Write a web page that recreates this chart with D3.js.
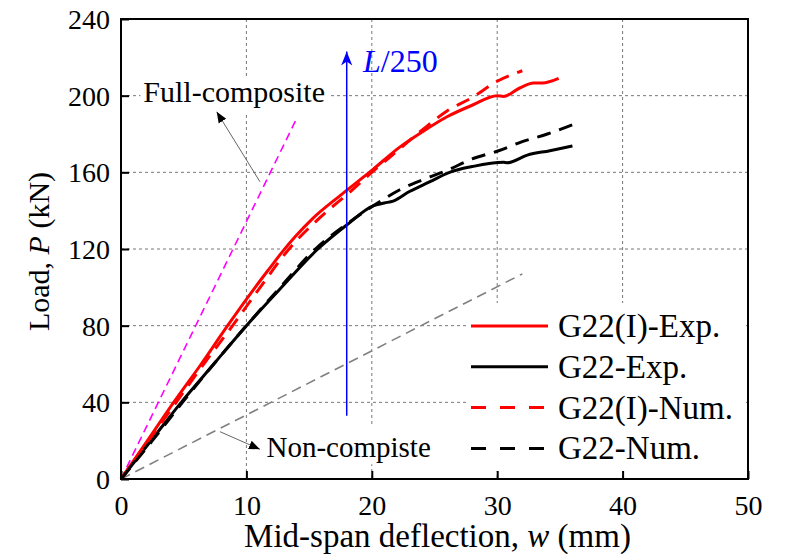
<!DOCTYPE html>
<html>
<head>
<meta charset="utf-8">
<script src="https://cdn.jsdelivr.net/npm/d3@7"></script>
<style>
  body { margin: 0; background: #fff; }
  text { font-family: "Liberation Serif", "Times New Roman", serif; fill: #000; }
</style>
</head>
<body>
<div class="chart"></div>
<script>
// deflection w (mm) / load P (kN)
let expIW = [0, 2, 4.2, 6.4, 8.5, 10.7, 11.8, 12.8, 13.9, 15.3, 17.5, 20, 22.2, 24, 26, 28, 30, 30.5, 31.8, 32.9, 33.6, 34.9];
let expIP = [0, 19, 40, 60, 80, 100, 109.5, 118, 126.5, 136, 148, 161, 173, 181, 189, 195, 200, 199.6, 204, 206.6, 206.6, 209];

let expW = [0, 2.4, 4.8, 7.4, 10, 12.8, 15.7, 18, 20.1, 21, 21.7, 23, 24.6, 26.2, 28, 30.5, 30.8, 32.4, 34.2, 36];
let expP = [0, 20, 40, 60, 80, 100, 120, 132.5, 142.5, 144, 145, 150, 155, 160, 163, 165.3, 165, 169, 171.3, 173.8];

let numIW = [0, 2.2, 4.4, 6.6, 8.9, 11.1, 13.4, 15.8, 18.3, 20, 22, 24, 26, 28, 30, 32];
let numIP = [0, 20, 40, 60, 80, 100, 120, 136, 150, 160, 171, 182, 192, 199, 207.5, 213];

let numW = [0, 2.5, 4.9, 7.4, 10, 12.7, 15.5, 18, 20, 22.2, 24, 26, 28, 30, 32, 34, 36.3];
let numP = [0, 20, 40, 60, 80, 100, 120, 133, 142, 150.8, 156, 161, 167, 171, 176, 180, 185.6];

let fullW = [0, 14];
let fullP = [0, 188];
let nonW = [0, 32];
let nonP = [0, 107];

let l250 = 18;
let l250P = [33, 223];

let xTicks = [0, 10, 20, 30, 40, 50];
let yTicks = [0, 40, 80, 120, 160, 200, 240];

let seriesNames = ['G22(I)-Exp.', 'G22-Exp.', 'G22(I)-Num.', 'G22-Num.'];

let margin = {top: 19, right: 41, bottom: 80, left: 121};
let width = 789 - margin.left - margin.right;
let height = 559 - margin.top - margin.bottom;

let svg = d3.select('.chart')
	.append('svg')
	.attr('width', 789)
	.attr('height', 559)
	.append('g')
	.attr('transform', 'translate(' + margin.left + ', ' + margin.top + ')');

let xScale = d3.scaleLinear().domain([0, 50]).range([0, width]);
let yScale = d3.scaleLinear().domain([0, 240]).range([height, 0]);

// grid
svg.append('g')
	.selectAll('line')
	.data(xTicks.slice(1, -1))
	.enter().append('line')
	.attr('x1', d => xScale(d)).attr('x2', d => xScale(d))
	.attr('y1', 0).attr('y2', height)
	.style('stroke', '#777').style('stroke-width', 1).style('stroke-dasharray', '3,3');

svg.append('g')
	.selectAll('line')
	.data(yTicks.slice(1, -1))
	.enter().append('line')
	.attr('y1', d => yScale(d)).attr('y2', d => yScale(d))
	.attr('x1', 0).attr('x2', width)
	.style('stroke', '#777').style('stroke-width', 1).style('stroke-dasharray', '3,3');

// axes, ticks inside
let xAxis = svg.append('g')
	.attr('transform', 'translate(0, ' + height + ')')
	.call(d3.axisBottom(xScale).tickValues(xTicks).tickSizeInner(-8).tickSizeOuter(0).tickPadding(16));
let yAxis = svg.append('g')
	.call(d3.axisLeft(yScale).tickValues(yTicks).tickSizeInner(-8).tickSizeOuter(0).tickPadding(11));

[xAxis, yAxis].forEach(a => {
	a.select('.domain').remove();
	a.selectAll('line').style('stroke', '#000').style('stroke-width', 2);
	a.selectAll('text').style('font-size', '28px').style('font-family', '"Liberation Serif", serif');
});
yAxis.selectAll('text').attr('dy', '0.34em');
xAxis.selectAll('text').attr('dy', '0.71em');

let line = d3.line()
	.x(d => xScale(d[0]))
	.y(d => yScale(d[1]))
	.curve(d3.curveMonotoneX);

let zip = (a, b) => a.map((v, i) => [v, b[i]]);

// reference lines
svg.append('path')
	.attr('d', line(zip(nonW, nonP)))
	.style('fill', 'none').style('stroke', '#808080').style('stroke-width', 1.6).style('stroke-dasharray', '10,6');
svg.append('path')
	.attr('d', line(zip(fullW, fullP)))
	.style('fill', 'none').style('stroke', '#ff00ff').style('stroke-width', 1.6).style('stroke-dasharray', '8,5');

let series = [
	{w: expIW, p: expIP, color: '#ff0000', dash: null},
	{w: expW, p: expP, color: '#000000', dash: null},
	{w: numIW, p: numIP, color: '#ff0000', dash: '14,9'},
	{w: numW, p: numP, color: '#000000', dash: '14,9'}
];

svg.selectAll('.line')
	.data(series)
	.enter()
	.append('path')
	.attr('class', 'line')
	.attr('d', d => line(zip(d.w, d.p)))
	.style('fill', 'none')
	.style('stroke', d => d.color)
	.style('stroke-width', 3)
	.style('stroke-dasharray', d => d.dash);

// markers
let defs = svg.append('defs');
defs.append('marker')
	.attr('id', 'blueHead').attr('viewBox', '0 0 10 10')
	.attr('refX', 10).attr('refY', 5)
	.attr('markerWidth', 14).attr('markerHeight', 14)
	.attr('markerUnits', 'userSpaceOnUse').attr('orient', 'auto')
	.append('path').attr('d', 'M0,1 L10,5 L0,9 L3,5 Z').style('fill', '#0000ff');
defs.append('marker')
	.attr('id', 'blackHead').attr('viewBox', '0 0 10 10')
	.attr('refX', 10).attr('refY', 5)
	.attr('markerWidth', 11).attr('markerHeight', 11)
	.attr('markerUnits', 'userSpaceOnUse').attr('orient', 'auto')
	.append('path').attr('d', 'M0,1 L10,5 L0,9 Z').style('fill', '#000');

// L/250
svg.append('line')
	.attr('x1', xScale(l250)).attr('x2', xScale(l250))
	.attr('y1', yScale(l250P[0])).attr('y2', yScale(l250P[1]))
	.style('stroke', '#0000ff').style('stroke-width', 1.5)
	.attr('marker-end', 'url(#blueHead)');
let lt = svg.append('text')
	.attr('x', xScale(19.3)).attr('y', yScale(212.4))
	.style('font-size', '32px').style('fill', '#0000ff');
lt.append('tspan').style('font-style', 'italic').style('fill', '#0000ff').text('L');
lt.append('tspan').style('fill', '#0000ff').text('/250');

// annotations
svg.append('rect')
	.attr('x', xScale(1.55)).attr('y', yScale(210))
	.attr('width', 188).attr('height', 37).style('fill', '#fff');
svg.append('text')
	.attr('x', xScale(1.78)).attr('y', yScale(196.8))
	.style('font-size', '30px').text('Full-composite');
svg.append('line')
	.attr('x1', xScale(11.08)).attr('y1', yScale(155.1))
	.attr('x2', xScale(7.63)).attr('y2', yScale(191.6))
	.style('stroke', '#666').style('stroke-width', 1)
	.attr('marker-end', 'url(#blackHead)');

svg.append('rect')
	.attr('x', xScale(11.3)).attr('y', yScale(27.5))
	.attr('width', 178).attr('height', 38).style('fill', '#fff');
svg.append('text')
	.attr('x', xScale(11.6)).attr('y', yScale(11.6))
	.style('font-size', '29px').text('Non-compiste');
svg.append('line')
	.attr('x1', xScale(7.89)).attr('y1', yScale(24.7))
	.attr('x2', xScale(11.08)).attr('y2', yScale(15.5))
	.style('stroke', '#666').style('stroke-width', 1)
	.attr('marker-end', 'url(#blackHead)');

// legend
let legend = svg.append('g').attr('transform', 'translate(' + (467 - margin.left) + ', ' + (303 - margin.top) + ')');
legend.append('rect').attr('width', 279).attr('height', 168).style('fill', '#fff');
let rows = legend.selectAll('.row')
	.data(series)
	.enter().append('g')
	.attr('transform', (d, i) => 'translate(0, ' + (23 + i * 40.8) + ')');
rows.append('line')
	.attr('x1', 4).attr('x2', 81)
	.style('stroke', d => d.color).style('stroke-width', 3)
	.style('stroke-dasharray', d => d.dash ? '15,14' : null);
rows.append('text')
	.attr('x', 91).attr('y', 11)
	.style('font-size', '33px')
	.text((d, i) => seriesNames[i]);

// frame
svg.append('rect')
	.attr('width', width).attr('height', height)
	.style('fill', 'none').style('stroke', '#000').style('stroke-width', 2);

// axis titles
let xt = svg.append('text')
	.attr('x', width / 2 + 3).attr('y', height + 68)
	.attr('text-anchor', 'middle').style('font-size', '33px');
xt.append('tspan').text('Mid-span deflection, ');
xt.append('tspan').style('font-style', 'italic').text('w');
xt.append('tspan').text(' (mm)');

let yt = svg.append('text')
	.attr('transform', 'rotate(-90)')
	.attr('x', -(251.5 - margin.top)).attr('y', 49 - margin.left)
	.attr('text-anchor', 'middle').style('font-size', '30px');
yt.append('tspan').text('Load, ');
yt.append('tspan').style('font-style', 'italic').text('P');
yt.append('tspan').text(' (kN)');
</script>
</body>
</html>
